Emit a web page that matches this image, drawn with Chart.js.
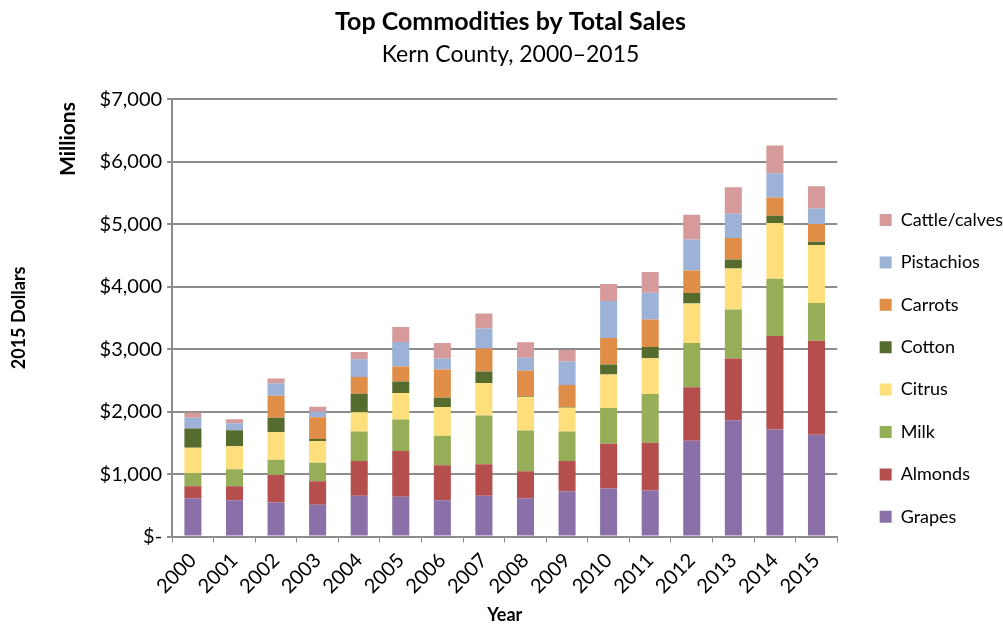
<!DOCTYPE html>
<html>
<head>
<meta charset="utf-8">
<title>Top Commodities by Total Sales</title>
<script src="https://cdn.jsdelivr.net/npm/chart.js@4.4.1/dist/chart.umd.min.js"></script>
<style>
  body { margin: 0; background: #fff; }
  #wrap { width: 1003px; height: 624px; }
</style>
</head>
<body>
<div id="wrap"><canvas id="myChart" width="1003" height="624"></canvas></div>
<script>
// sales by commodity, millions of 2015 dollars
const years = ['2000', '2001', '2002', '2003', '2004', '2005', '2006', '2007',
               '2008', '2009', '2010', '2011', '2012', '2013', '2014', '2015'];
const grapes     = [612, 580, 547, 510, 655, 639, 580, 655, 612, 720, 768, 736, 1535, 1863, 1712, 1631];
const almonds    = [193, 225, 440, 376, 553, 730, 563, 504, 435, 488, 719, 767, 853, 987, 1497, 1504];
const milk       = [209, 274, 242, 294, 472, 504, 472, 778, 649, 472, 569, 779, 709, 784, 918, 601];
const citrus     = [408, 365, 441, 350, 311, 425, 457, 522, 537, 381, 537, 573, 634, 654, 892, 929];
const cotton     = [306, 258, 230, 32, 296, 182, 150, 182, 10, 10, 161, 177, 166, 145, 113, 53];
const carrots    = [0, 0, 354, 349, 268, 241, 451, 370, 409, 356, 423, 441, 359, 344, 295, 285];
const pistachios = [172, 113, 199, 86, 284, 392, 177, 317, 209, 375, 591, 429, 499, 387, 386, 247];
const cattle     = [81, 64, 77, 80, 113, 242, 247, 242, 247, 183, 274, 333, 393, 424, 446, 354];
const yTicks = [0, 1000, 2000, 3000, 4000, 5000, 6000, 7000];

const FONT = 'Lato, "Open Sans", sans-serif';
const gridGray = '#8c8c8c';

function serie(label, data, color) {
    return { label: label, data: data, backgroundColor: color, borderWidth: 0,
             barPercentage: 0.41, categoryPercentage: 1 };
}

// extra "Millions" caption above the y axis
const unitLabel = {
    id: 'unitLabel',
    afterDraw(chart) {
        const ctx = chart.ctx;
        ctx.save();
        ctx.translate(chart.scales.y.left + 60, chart.chartArea.top + 40);
        ctx.rotate(-Math.PI / 2);
        ctx.font = 'bold 21px ' + FONT;
        ctx.fillStyle = '#000';
        ctx.textAlign = 'center';
        ctx.textBaseline = 'middle';
        ctx.fillText('Millions', 0, 0);
        ctx.restore();
    }
};

const ctx = document.getElementById('myChart').getContext('2d');
const myChart = new Chart(ctx, {
    type: 'bar',
    data: {
        labels: years,
        datasets: [
            serie('Grapes', grapes, '#8a6fa9'),
            serie('Almonds', almonds, '#b44f4d'),
            serie('Milk', milk, '#97ae58'),
            serie('Citrus', citrus, '#ffdf7b'),
            serie('Cotton', cotton, '#566c2e'),
            serie('Carrots', carrots, '#e08e47'),
            serie('Pistachios', pistachios, '#9db2d7'),
            serie('Cattle/calves', cattle, '#d69a9a')
        ]
    },
    options: {
        responsive: false,
        animation: false,
        layout: { padding: { left: 8, right: -10, top: 0, bottom: -2 } },
        plugins: {
            title: {
                display: true,
                text: 'Top Commodities by Total Sales',
                color: '#000',
                font: { family: FONT, size: 25, weight: 'bold' },
                padding: { top: 7, bottom: 4 }
            },
            subtitle: {
                display: true,
                text: 'Kern County, 2000\u20132015',
                color: '#000',
                font: { family: FONT, size: 23 },
                padding: { top: 0, bottom: 30.5 }
            },
            legend: {
                position: 'right',
                reverse: true,
                // empty title only pushes the entries down
                title: { display: true, text: '', padding: { top: 0, bottom: 96.4 } },
                labels: {
                    color: '#000',
                    font: { family: FONT, size: 18 },
                    boxWidth: 12,
                    boxHeight: 12,
                    padding: 24.4
                }
            },
            tooltip: { enabled: false }
        },
        scales: {
            x: {
                stacked: true,
                grid: { drawOnChartArea: false, offset: true, color: gridGray, lineWidth: 1, tickLength: 6 },
                border: { color: gridGray, width: 2 },
                ticks: { color: '#000', font: { family: FONT, size: 20 }, minRotation: 45, maxRotation: 45, padding: 6 },
                title: { display: true, text: 'Year', color: '#000', font: { family: FONT, size: 18, weight: 'bold' }, padding: { top: 0, bottom: 0 } }
            },
            y: {
                stacked: true,
                min: 0,
                max: 7000,
                afterBuildTicks: (scale) => { scale.ticks = yTicks.map(v => ({ value: v })); },
                grid: { color: gridGray, lineWidth: 2, tickLength: 5 },
                border: { color: gridGray, width: 2 },
                ticks: {
                    color: '#000',
                    font: { family: FONT, size: 20 },
                    padding: 5,
                    callback: (v) => v === 0 ? '$-' : '$' + v.toLocaleString('en-US')
                },
                title: { display: true, text: '2015 Dollars', color: '#000', font: { family: FONT, size: 18, weight: 'bold' }, padding: { top: 0, bottom: 65 } }
            },
            // spacer between the plot and the legend
            gap: {
                position: 'right',
                display: true,
                grid: { display: false },
                border: { display: false },
                ticks: { display: false },
                afterFit: (scale) => { scale.width = 18; }
            }
        }
    },
    plugins: [unitLabel]
});
</script>
</body>
</html>
